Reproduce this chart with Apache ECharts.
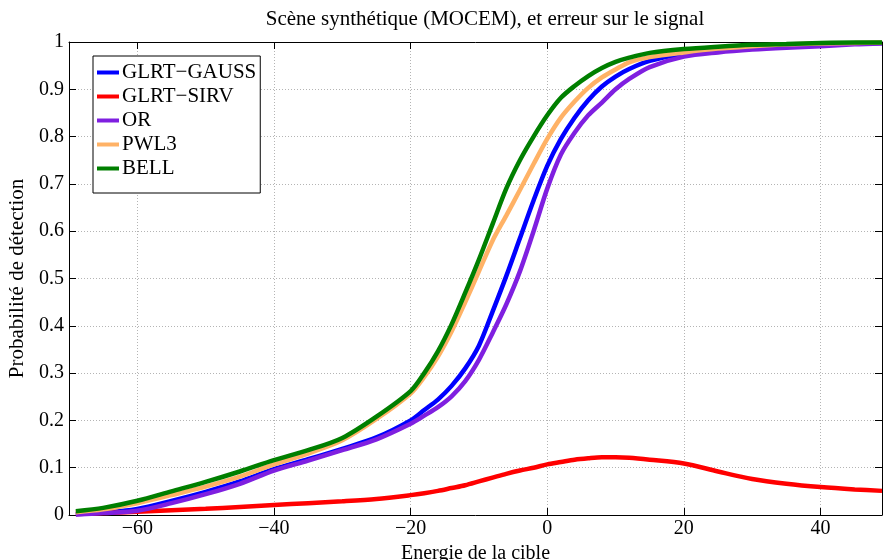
<!DOCTYPE html>
<html><head><meta charset="utf-8">
<script src="https://cdn.jsdelivr.net/npm/echarts@6/dist/echarts.min.js"></script>
<style>html,body{margin:0;padding:0;background:#fff}#c{width:884px;height:560px}</style>
</head><body><div id="c"></div>
<script>
const energie = [-69,-65,-60,-55,-50,-45,-40,-35,-30,-25,-20,-18,-16,-14,-12,-10,-8,-6,-4,-2,0,2,4,6,8,10,12,15,20,25,30,35,40,45,49];
const glrtGauss = [0.002,0.005,0.013,0.030,0.049,0.071,0.097,0.118,0.140,0.164,0.200,0.222,0.244,0.273,0.310,0.358,0.430,0.505,0.585,0.665,0.738,0.795,0.840,0.877,0.906,0.927,0.943,0.960,0.975,0.983,0.988,0.992,0.995,0.997,0.998];
const glrtSirv = [0.002,0.004,0.007,0.010,0.013,0.017,0.021,0.025,0.029,0.034,0.042,0.046,0.051,0.057,0.063,0.071,0.079,0.087,0.094,0.100,0.107,0.112,0.117,0.120,0.122,0.122,0.121,0.117,0.109,0.092,0.076,0.066,0.059,0.054,0.051];
const orCurve = [0.001,0.004,0.009,0.025,0.044,0.066,0.094,0.115,0.137,0.160,0.193,0.210,0.228,0.251,0.283,0.328,0.385,0.445,0.515,0.600,0.690,0.762,0.808,0.845,0.872,0.900,0.922,0.947,0.969,0.978,0.984,0.988,0.991,0.995,0.997];
const pwl3 = [0.006,0.012,0.025,0.042,0.060,0.081,0.107,0.130,0.158,0.203,0.257,0.292,0.335,0.388,0.450,0.515,0.580,0.633,0.687,0.742,0.795,0.840,0.874,0.903,0.925,0.942,0.957,0.968,0.978,0.986,0.991,0.995,0.997,0.998,0.999];
const bell = [0.008,0.015,0.030,0.050,0.070,0.092,0.116,0.137,0.163,0.208,0.262,0.300,0.346,0.403,0.470,0.540,0.615,0.690,0.750,0.800,0.845,0.882,0.907,0.928,0.945,0.958,0.967,0.977,0.985,0.990,0.994,0.996,0.998,0.999,0.999];
const xTicks = [-60,-40,-20,0,20,40];
const seriesNames = ['GLRT\u2212GAUSS','GLRT\u2212SIRV','OR','PWL3','BELL'];
const seriesColors = ['#0000ff','#ff0000','#7f1fe0','#ffb266','#007f00'];
const seriesValues = [glrtGauss, glrtSirv, orCurve, pwl3, bell];

const FONT = 'Liberation Serif';
const chart = echarts.init(document.getElementById('c'));
const lineCommon = {show:true,onZero:false,lineStyle:{color:'#000',width:1}};
const tickY = {show:true,inside:true,length:7,lineStyle:{color:'#000'}};
const tickX = {show:true,inside:true,length:7,customValues:xTicks,lineStyle:{color:'#000'}};
const gridLine = {show:true,lineStyle:{color:'#b4b4b4',type:[1,2],width:1}};
chart.setOption({
  animation:false,
  backgroundColor:'#fff',
  title:{text:'Scène synthétique (MOCEM), et erreur sur le signal',left:480,textAlign:'center',top:4,
    textStyle:{fontFamily:FONT,fontSize:21,fontWeight:'normal',color:'#000'}},
  grid:{left:69,right:2,top:42,bottom:45,containLabel:false,outerBoundsMode:'none'},
  legend:{orient:'vertical',left:93,top:56,data:seriesNames,icon:'rect',itemWidth:22,itemHeight:4,itemGap:3,
    padding:[6,4,14,4],borderColor:'#000',borderWidth:1,backgroundColor:'#fff',
    textStyle:{fontFamily:FONT,fontSize:21,color:'#000',padding:[0,0,0,-2]}},
  xAxis:[
    {type:'value',min:-70,max:49,position:'bottom',
      name:'Energie de la cible',nameLocation:'middle',nameGap:22,
      nameTextStyle:{fontFamily:FONT,fontSize:20,color:'#000'},
      axisLine:lineCommon,axisTick:tickX,
      axisLabel:{customValues:xTicks,margin:4,fontFamily:FONT,fontSize:20,color:'#000',
        formatter:v=>String(v).replace('-','\u2212')},
      splitLine:gridLine},
    {type:'value',min:-70,max:49,position:'top',axisLine:lineCommon,axisTick:tickX,
      axisLabel:{show:false},splitLine:{show:false}}
  ],
  yAxis:[
    {type:'value',min:0,max:1,interval:0.1,position:'left',
      name:'Probabilité de détection',nameLocation:'middle',nameGap:36,
      nameTextStyle:{fontFamily:FONT,fontSize:21,color:'#000'},
      axisLine:lineCommon,axisTick:tickY,
      axisLabel:{margin:5,fontFamily:FONT,fontSize:20,color:'#000'},
      splitLine:gridLine},
    {type:'value',min:0,max:1,interval:0.1,position:'right',axisLine:lineCommon,axisTick:tickY,
      axisLabel:{show:false},splitLine:{show:false}}
  ],
  series: seriesNames.map((n,i)=>({
    name:n,type:'line',xAxisIndex:0,yAxisIndex:0,showSymbol:false,smooth:0.3,
    color:seriesColors[i],lineStyle:{width:4.5,color:seriesColors[i]},
    data: energie.map((x,j)=>[x, seriesValues[i][j]])
  }))
});
</script></body></html>
